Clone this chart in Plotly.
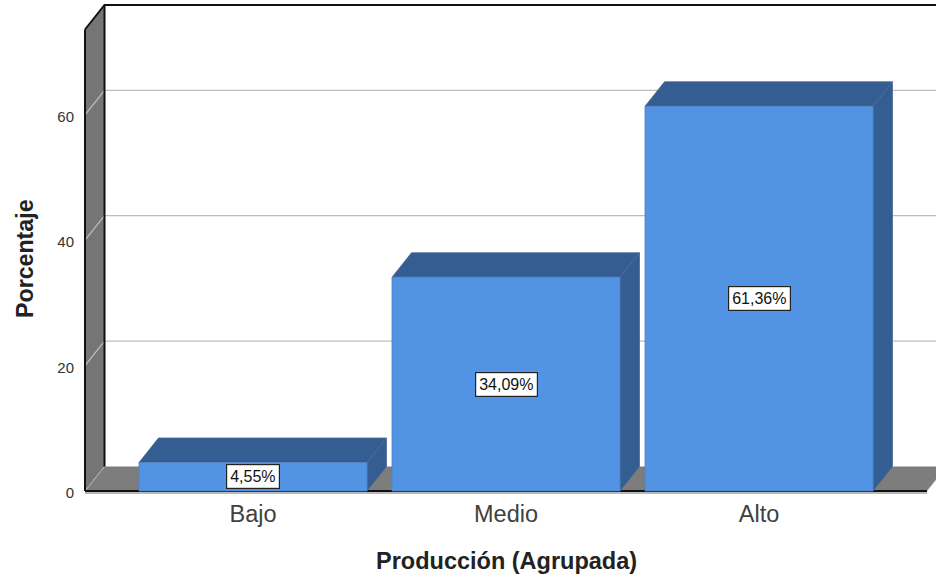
import plotly.graph_objects as go

categories = ["Bajo", "Medio", "Alto"]
percentages = [4.55, 34.09, 61.36]
y_ticks = [0, 20, 40, 60]
x_title = "Producción (Agrupada)"
y_title = "Porcentaje"

FRONT = "#5294e3"
SHADE = "#345d92"
WALL = "#757575"
FLOOR = "#7d7d7d"
GRID = "#bdbdbd"
FONT = "Liberation Sans, Arial, sans-serif"

# Figure margins in pixels
M_LEFT, M_TOP, M_BOTTOM = 84, 2, 86
PLOT_W = 936 - M_LEFT
PLOT_H = 581 - M_TOP - M_BOTTOM

# Axis scale and the oblique offset of the 3D box, in axis units
PX_X = 253.0
PX_Y = 6.27
DX = 19.5 / PX_X
DY = 24.5 / PX_Y
HALF = 0.4506
LEFT = -0.664
RIGHT = 2.664
Y_TOP = 486 / PX_Y  # back wall upper edge

fig = go.Figure()


def poly(xs, ys, fill, edge=None, width=0):
    fig.add_trace(go.Scatter(
        x=list(xs) + [xs[0]], y=list(ys) + [ys[0]], mode="lines", fill="toself",
        fillcolor=fill, line=dict(color=edge or fill, width=width or 0.5),
        hoverinfo="skip", showlegend=False))


def line(xs, ys, color, width):
    fig.add_trace(go.Scatter(
        x=xs, y=ys, mode="lines", line=dict(color=color, width=width),
        hoverinfo="skip", showlegend=False))


# Left wall
poly([LEFT, LEFT + DX, LEFT + DX, LEFT], [0, DY, Y_TOP, Y_TOP - DY], WALL)

# Gridlines, running across the left wall and along the back wall
for t in y_ticks[1:]:
    line([LEFT, LEFT + DX, 3.2], [t, t + DY, t + DY], GRID, 1.3)

# Floor
poly([LEFT, RIGHT, RIGHT + DX, LEFT + DX], [0, 0, DY, DY], FLOOR, GRID, 1)
line([LEFT, LEFT + DX], [0, DY], "#a8a8a8", 1)

# Wall outlines
line([LEFT, LEFT], [0, Y_TOP - DY], "#111111", 2)
line([LEFT + DX, LEFT + DX], [DY, Y_TOP], "#111111", 2)
line([LEFT, LEFT + DX, 3.2], [Y_TOP - DY, Y_TOP, Y_TOP], "#111111", 2)

# Floor front edge with the baseline beneath it
line([LEFT, RIGHT], [-0.3, -0.3], "#a0a0a0", 1.5)
line([LEFT, RIGHT], [0, 0], "#111111", 1.8)

# Bars: top face, side face, then front face
for i, v in enumerate(percentages):
    x0, x1 = i - HALF, i + HALF
    poly([x0, x1, x1 + DX, x0 + DX], [v, v, v + DY, v + DY], SHADE, "#4a6a94", 0.8)
    poly([x1, x1 + DX, x1 + DX, x1], [0, DY, v + DY, v], SHADE, "#4a6a94", 0.8)
    poly([x0, x1, x1, x0], [0, 0, v, v], FRONT, "#4f82c0", 0.8)
    fig.add_annotation(
        x=i, y=v / 2, xref="x", yref="y", showarrow=False,
        text=f"{v:.2f}".replace(".", ",") + "%",
        font=dict(family=FONT, size=16, color="#111111"),
        bgcolor="#ffffff", bordercolor="#222222", borderwidth=1.2, borderpad=3)

# Axis titles sit at fixed spots beside the plot area
fig.add_annotation(
    x=1, y=(581 - M_BOTTOM - 561) / PLOT_H, xref="x", yref="paper",
    xanchor="center", yanchor="middle",
    showarrow=False, text=f"<b>{x_title}</b>",
    font=dict(family=FONT, size=23.5, color="#222222"))
fig.add_annotation(
    x=(25 - M_LEFT) / PLOT_W, y=(581 - M_BOTTOM - 259) / PLOT_H, xref="paper", yref="paper",
    xanchor="center", yanchor="middle",
    showarrow=False, textangle=-90, text=f"<b>{y_title}</b>",
    font=dict(family=FONT, size=23.2, color="#222222"))

fig.update_layout(
    width=936, height=581, autosize=False,
    margin=dict(l=M_LEFT, r=0, t=M_TOP, b=M_BOTTOM),
    paper_bgcolor="#ffffff", plot_bgcolor="#ffffff",
    showlegend=False,
    font=dict(family=FONT, color="#222222"),
    xaxis=dict(
        range=[(M_LEFT - PX_X) / PX_X, (936 - PX_X) / PX_X],
        tickmode="array", tickvals=list(range(len(categories))), ticktext=categories,
        tickfont=dict(size=23.5, color="#404040"),
        ticks="outside", ticklen=1, tickcolor="rgba(0,0,0,0)", ticklabelstandoff=-3,
        showgrid=False, zeroline=False, showline=False,
    ),
    yaxis=dict(
        range=[-4 / PX_Y, 489 / PX_Y],
        tickmode="array", tickvals=y_ticks,
        tickfont=dict(size=15, color="#333333"),
        ticks="outside", ticklen=6, tickcolor="rgba(0,0,0,0)", ticklabelshift=2,
        showgrid=False, zeroline=False, showline=False,
    ),
)

fig.write_html("out.html")
